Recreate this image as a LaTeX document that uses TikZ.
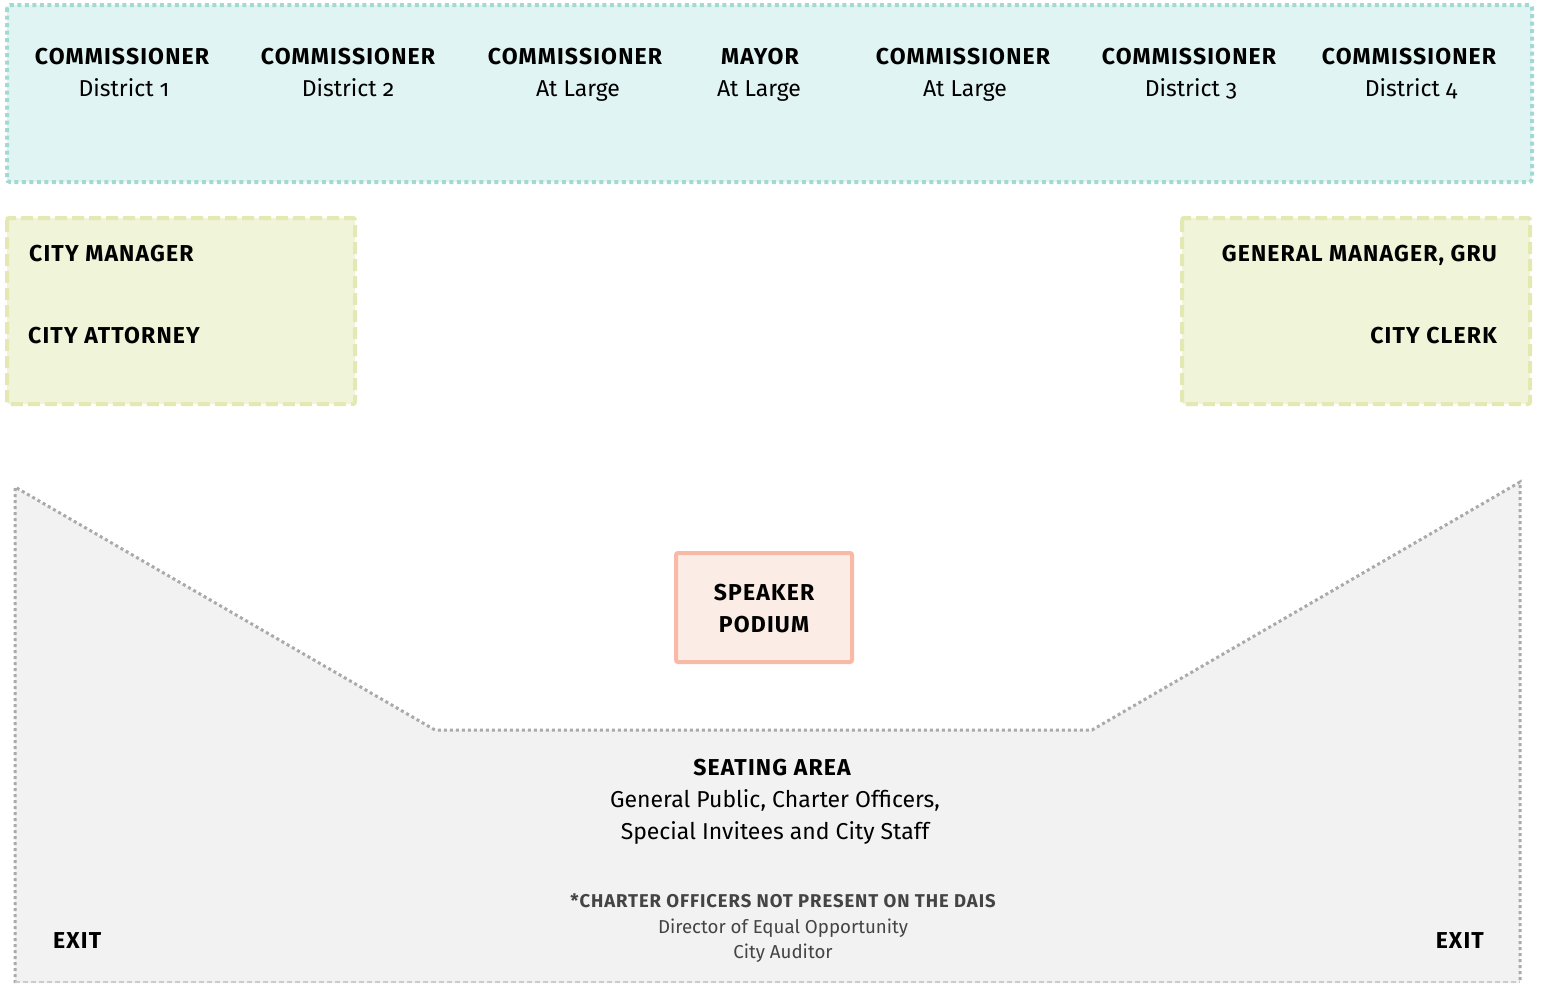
\documentclass[tikz,border=0pt]{standalone}
\usepackage{fontspec}
\setmainfont{Fira Sans}[Numbers=OldStyle, BoldFeatures={LetterSpace=5}]
\definecolor{tealfill}{HTML}{E0F5F3}
\definecolor{tealline}{HTML}{A2D9D3}
\definecolor{greenfill}{HTML}{F0F4D8}
\definecolor{greenline}{HTML}{E4E8B2}
\definecolor{grayfill}{HTML}{F2F2F2}
\definecolor{grayline}{HTML}{AAAAAA}
\definecolor{podfill}{HTML}{FBEDE5}
\definecolor{podline}{HTML}{F8B9A6}
\definecolor{notegray}{HTML}{444444}
\tikzset{
  title/.style={font=\fontsize{23}{27}\selectfont\bfseries, inner sep=0pt, anchor=base},
  sub/.style={font=\fontsize{23}{27}\selectfont, inner sep=0pt, anchor=base},
  role/.style={font=\fontsize{23}{27}\selectfont\bfseries, inner sep=0pt},
  note/.style={font=\fontsize{18.5}{22}\selectfont\bfseries, text=notegray, inner sep=0pt, anchor=base},
  notesub/.style={font=\fontsize{18.7}{22}\selectfont, text=notegray, inner sep=0pt, anchor=base},
}
\begin{document}
\begin{tikzpicture}[x=1pt,y=-1pt]
\useasboundingbox (0,0) rectangle (1541,983);
% dais
\draw[fill=tealfill, draw=tealline, line width=4pt, dash pattern=on 4pt off 3.5pt, rounded corners=3pt] (7,5) rectangle (1532,182);
% staff boxes
\draw[fill=greenfill, draw=greenline, line width=4pt, dash pattern=on 12pt off 5pt, rounded corners=2pt] (7,218) rectangle (355,404);
\draw[fill=greenfill, draw=greenline, line width=4pt, dash pattern=on 12pt off 5pt, rounded corners=2pt] (1182,218) rectangle (1530,404);
% seating
\fill[grayfill] (15,487) -- (435,730) -- (1092,730) -- (1520,482) -- (1520,983) -- (15,983) -- cycle;
\draw[draw=grayline, line width=3pt, dash pattern=on 3pt off 3pt] (15,983) -- (15,487) -- (435,730) -- (1092,730) -- (1520,482) -- (1520,983);
\draw[draw=grayline!60, line width=1.5pt, dash pattern=on 5pt off 3pt] (15,982) -- (1520,982);
% podium
\draw[fill=podfill, draw=podline, line width=4pt, rounded corners=2pt] (676,553) rectangle (852,662);
% dais texts
\node[title] (c1) at (122,64) {COMMISSIONER};
\node[sub] (c1s) at (124,96) {District 1};
\node[title] (c2) at (348,64) {COMMISSIONER};
\node[sub] (c2s) at (348,96) {District 2};
\node[title] (c3) at (575,64) {COMMISSIONER};
\node[sub] (c3s) at (578,96) {At Large};
\node[title] (m) at (760,64) {MAYOR};
\node[sub] (ms) at (759,96) {At Large};
\node[title] (c4) at (963,64) {COMMISSIONER};
\node[sub] (c4s) at (965,96) {At Large};
\node[title] (c5) at (1189,64) {COMMISSIONER};
\node[sub] (c5s) at (1191,96) {District 3};
\node[title] (c6) at (1409,64) {COMMISSIONER};
\node[sub] (c6s) at (1411,96) {District 4};
% staff texts
\node[role, anchor=base west] (cm) at (29,261) {CITY MANAGER};
\node[role, anchor=base west] (ca) at (28,343) {CITY ATTORNEY};
\node[role, anchor=base east] (gm) at (1497,261) {GENERAL MANAGER, GRU};
\node[role, anchor=base east] (cc) at (1497,343) {CITY CLERK};
% podium text
\node[title] (sp) at (764,600) {SPEAKER};
\node[title] (pd) at (764,632) {PODIUM};
% seating text
\node[title] (sa) at (772,775) {SEATING AREA};
\node[sub] (sa1) at (775,807) {General Public, Charter Officers,};
\node[sub] (sa2) at (775,839) {Special Invitees and City Staff};
\node[note] (n0) at (783,907) {*CHARTER OFFICERS NOT PRESENT ON THE DAIS};
\node[notesub] (n1) at (783,933) {Director of Equal Opportunity};
\node[notesub] (n2) at (783,958) {City Auditor};
\node[role, anchor=base west] (e1) at (53,948) {EXIT};
\node[role, anchor=base east] (e2) at (1484,948) {EXIT};
\end{tikzpicture}
\end{document}
